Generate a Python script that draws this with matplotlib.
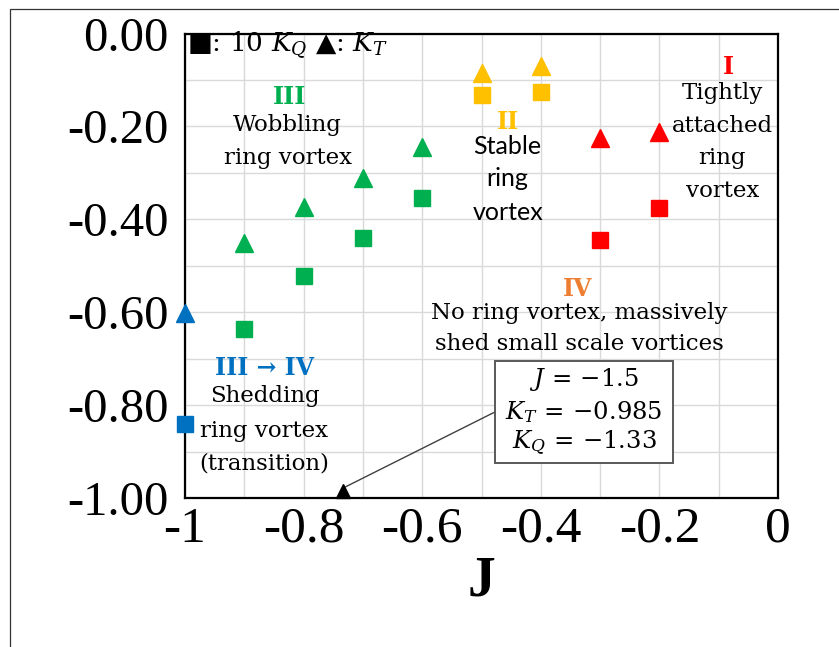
import matplotlib
matplotlib.use("Agg")
import matplotlib.pyplot as plt
from matplotlib.patches import Rectangle
import numpy as np

# advance ratio per regime
j_wobble = [-0.9, -0.8, -0.7, -0.6]
j_stable = [-0.5, -0.4]
j_attached = [-0.3, -0.2]
j_shedding = [-1.0]

# thrust coefficient K_T
kt_wobble = [-0.452, -0.374, -0.310, -0.245]
kt_stable = [-0.085, -0.070]
kt_attached = [-0.226, -0.213]
kt_shedding = [-0.601]

# torque coefficient, scaled (10 K_Q)
kq_wobble = [-0.636, -0.523, -0.441, -0.354]
kq_stable = [-0.132, -0.125]
kq_attached = [-0.445, -0.376]
kq_shedding = [-0.841]

# point outside the J range, shown at the bottom with a pointer
outlier_j = -1.5
outlier_kt = -0.985
outlier_kq = -1.33
outlier_marker_j = -0.734

GREEN = '#00B050'
GOLD = '#FFC000'
RED = '#FF0000'
BLUE = '#0070C0'
ORANGE = '#ED7D31'

SERIF = ['DejaVu Serif', 'DejaVu Sans']
plt.rcParams['mathtext.fontset'] = 'dejavuserif'

fig = plt.figure(figsize=(8.39, 6.47), dpi=100)
ax = fig.add_axes([0.2205, 0.2303, 0.7068, 0.7179])

# frame around the whole figure
fig.patches.append(Rectangle((10 / 839, -0.05), 1.1, 0.986 + 0.05,
                             transform=fig.transFigure, fill=False,
                             edgecolor='#333333', linewidth=0.9))

groups = [
    (j_wobble, kt_wobble, kq_wobble, GREEN),
    (j_stable, kt_stable, kq_stable, GOLD),
    (j_attached, kt_attached, kq_attached, RED),
    (j_shedding, kt_shedding, kq_shedding, BLUE),
]
for j, kt, kq, col in groups:
    ax.plot(j, kt, linestyle='none', marker='^', markersize=13.5,
            color=col, clip_on=False, zorder=3)
    ax.plot(j, kq, linestyle='none', marker='s', markersize=11.5,
            color=col, clip_on=False, zorder=3)

# pointer to the out-of-range case
ax.plot([outlier_marker_j], [outlier_kt], linestyle='none', marker='^',
        markersize=9.5, color='black', clip_on=False, zorder=4)
ax.plot([-0.4776, outlier_marker_j], [-0.815, outlier_kt + 0.006],
        color='#404040', linewidth=1.0, zorder=3)
ax.add_patch(Rectangle((-0.4776, -0.925), 0.3006, 0.220, fill=True,
                       facecolor='white', edgecolor='#595959',
                       linewidth=1.4, zorder=4))
box_lines = [
    (-0.744, r'$J\,=\,{%.1f}$' % outlier_j),
    (-0.815, r'$K_T\,=\,{%.3f}$' % outlier_kt),
    (-0.880, r'$K_Q\,=\,{%.2f}$' % outlier_kq),
]
for y, s in box_lines:
    ax.text(-0.327, y, s, ha='center', va='center', fontsize=17.5,
            family=SERIF, zorder=5)

ax.set_xlim(-1, 0)
ax.set_ylim(-1, 0)
ax.set_xticks(np.arange(-1.0, 0.01, 0.1), minor=True)
ax.set_yticks(np.arange(-1.0, 0.01, 0.1), minor=True)
ax.set_xticks(np.arange(-1.0, 0.01, 0.2))
ax.set_xticklabels(['-1', '-0.8', '-0.6', '-0.4', '-0.2', '0'])
ax.set_yticks(np.arange(-1.0, 0.01, 0.2))
ax.set_yticklabels(['-1.00', '-0.80', '-0.60', '-0.40', '-0.20', '0.00'])
ax.grid(True, which='both', color='#D9D9D9', linewidth=1.0, zorder=0)
ax.set_axisbelow(True)
ax.tick_params(which='both', length=0)
ax.tick_params(axis='x', pad=6)
ax.tick_params(axis='y', pad=12)
for lab in ax.get_xticklabels():
    lab.set_fontfamily('Liberation Serif')
    lab.set_fontsize(37)
for lab in ax.get_yticklabels():
    lab.set_fontfamily('Liberation Serif')
    lab.set_fontsize(35)
for sp in ax.spines.values():
    sp.set_linewidth(1.6)
    sp.set_color('black')

ax.set_xlabel('J', fontfamily='Liberation Serif', fontweight='bold',
              fontsize=40, labelpad=2)

# marker key
ax.text(-0.997, -0.026, r'■: 10 $K_Q$ ▲: $K_T$', ha='left', va='center',
        fontsize=19, family=SERIF)


def label(x, y, s, color='black', bold=False, size=16.5, family=SERIF):
    ax.text(x, y, s, ha='center', va='center', color=color, fontsize=size,
            fontweight='bold' if bold else 'normal', family=family, zorder=5)


# regime III
label(-0.823, -0.137, 'III', GREEN, bold=True, size=17)
label(-0.827, -0.197, 'Wobbling')
label(-0.827, -0.267, 'ring vortex')

# regime II
label(-0.456, -0.191, 'II', GOLD, bold=True, size=17)
for y, s in [(-0.243, 'Stable'), (-0.312, 'ring'), (-0.385, 'vortex')]:
    label(-0.456, y, s, size=18, family=['Lato', 'DejaVu Sans'])

# regime I
label(-0.084, -0.072, 'I', RED, bold=True, size=17)
for y, s in [(-0.128, 'Tightly'), (-0.199, 'attached'),
             (-0.269, 'ring'), (-0.338, 'vortex')]:
    label(-0.094, y, s)

# regime IV
label(-0.338, -0.549, 'IV', ORANGE, bold=True, size=17)
label(-0.335, -0.601, 'No ring vortex, massively')
label(-0.335, -0.668, 'shed small scale vortices')

# transition III -> IV
label(-0.866, -0.720, 'III → IV', BLUE, bold=True, size=17)
label(-0.866, -0.781, 'Shedding')
label(-0.866, -0.856, 'ring vortex')
label(-0.866, -0.925, '(transition)')

fig.savefig('out.png', dpi=100)
